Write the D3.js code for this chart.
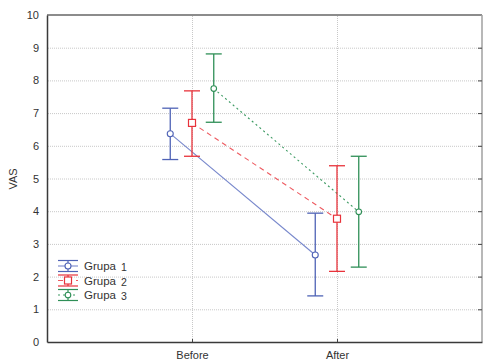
<!DOCTYPE html>
<html>
<head>
<meta charset="utf-8">
<script src="https://cdn.jsdelivr.net/npm/d3@7"></script>
<style>
  html, body { margin: 0; padding: 0; background: #fff; }
  svg { display: block; }
  text { font-family: "Liberation Sans", Arial, sans-serif; fill: #333; }
</style>
</head>
<body>
<svg id="chart" width="483" height="360"></svg>
<script>
// Measurement occasions on the x axis
const categories = ["Before", "After"];
// Group names and their numbers as shown in the legend
const groupNames = ["Grupa", "Grupa", "Grupa"];
const groupNumbers = ["1", "2", "3"];
// Mean VAS score per group, per occasion
const means1 = [6.37, 2.66];
const means2 = [6.70, 3.77];
const means3 = [7.75, 3.98];
// Upper and lower error-bar limits per group, per occasion
const upper1 = [7.15, 3.94];
const lower1 = [5.58, 1.41];
const upper2 = [7.68, 5.39];
const lower2 = [5.68, 2.16];
const upper3 = [8.81, 5.68];
const lower3 = [6.72, 2.29];
// Y tick values
const yTicks = [0, 1, 2, 3, 4, 5, 6, 7, 8, 9, 10];

const groups = [
  { name: groupNames[0], num: groupNumbers[0], means: means1, upper: upper1, lower: lower1,
    color: "#4f63b6", line: "#7888cc", dash: null, marker: "circle", offset: -0.15 },
  { name: groupNames[1], num: groupNumbers[1], means: means2, upper: upper2, lower: lower2,
    color: "#e8333b", line: "#ee5a60", dash: "5,4", marker: "square", offset: 0 },
  { name: groupNames[2], num: groupNumbers[2], means: means3, upper: upper3, lower: lower3,
    color: "#2f8f57", line: "#3c9a62", dash: "2,3", marker: "smallcircle", offset: 0.15 }
];

const svg = d3.select("#chart");
const plotLeft = 47, plotRight = 482, plotTop = 15, plotBottom = 342;

const x = d3.scaleLinear().domain([0, 3]).range([plotLeft, plotRight]);
const y = d3.scaleLinear().domain([0, 10]).range([plotBottom, plotTop]);
const catPos = i => i + 1;

// Grid lines
const grid = svg.append("g");
grid.selectAll("line.h").data(yTicks.filter(t => t > 0 && t < 10)).join("line")
  .attr("x1", plotLeft + 1).attr("x2", plotRight - 1)
  .attr("y1", d => y(d) + 0.5).attr("y2", d => y(d) + 0.5)
  .attr("stroke", "#c8c8c8").attr("stroke-width", 1).attr("stroke-dasharray", "1,1");
grid.selectAll("line.v").data(categories).join("line")
  .attr("x1", (d, i) => Math.round(x(catPos(i))) + 0.5)
  .attr("x2", (d, i) => Math.round(x(catPos(i))) + 0.5)
  .attr("y1", plotTop + 1).attr("y2", plotBottom - 1)
  .attr("stroke", "#c8c8c8").attr("stroke-width", 1).attr("stroke-dasharray", "1,1");

// Frame
svg.append("line").attr("x1", plotLeft).attr("x2", plotRight).attr("y1", plotTop).attr("y2", plotTop)
  .attr("stroke", "#8c8c8c").attr("stroke-width", 2);
svg.append("line").attr("x1", plotRight).attr("x2", plotRight).attr("y1", plotTop).attr("y2", plotBottom)
  .attr("stroke", "#a0a0a0").attr("stroke-width", 1.5);

// Left axis
const yAxis = svg.append("g").attr("transform", `translate(${plotLeft},0)`)
  .call(d3.axisLeft(y).tickValues(yTicks).tickSize(0).tickPadding(8).tickFormat(d3.format("d")));
yAxis.select(".domain").attr("stroke", "#3a3a3a").attr("stroke-width", 1.5);
yAxis.selectAll("text").style("font-size", "11px").attr("fill", "#333");

// Right-side inward ticks
svg.append("g").selectAll("line").data(yTicks.filter(t => t > 0 && t < 10)).join("line")
  .attr("x1", plotRight - 4).attr("x2", plotRight)
  .attr("y1", d => y(d) + 0.5).attr("y2", d => y(d) + 0.5)
  .attr("stroke", "#444").attr("stroke-width", 1);

// Bottom axis
const xAxis = svg.append("g").attr("transform", `translate(0,${plotBottom})`)
  .call(d3.axisBottom(x).tickValues(categories.map((c, i) => catPos(i)))
    .tickSize(-3).tickSizeOuter(0).tickPadding(9).tickFormat((d, i) => categories[i]));
xAxis.select(".domain").attr("stroke", "#3a3a3a").attr("stroke-width", 1.5);
xAxis.selectAll(".tick line").attr("stroke", "#444");
xAxis.selectAll("text").style("font-size", "11px").attr("fill", "#333");

// Y-axis title
svg.append("text")
  .attr("transform", "translate(17,179) rotate(-90)")
  .attr("text-anchor", "middle")
  .style("font-size", "11px")
  .text("VAS");

function drawMarker(g, cx, cy, grp) {
  if (grp.marker === "square") {
    g.append("rect").attr("x", cx - 3.5).attr("y", cy - 3.5).attr("width", 7).attr("height", 7)
      .attr("fill", "#fff").attr("stroke", grp.color).attr("stroke-width", 1.2);
  } else {
    const r = grp.marker === "circle" ? 3 : 2.8;
    g.append("circle").attr("cx", cx).attr("cy", cy).attr("r", r)
      .attr("fill", "#fff").attr("stroke", grp.color).attr("stroke-width", 1.1);
  }
}

const capHalf = 8;
const plot = svg.append("g");

// Connecting lines between the two occasions
groups.forEach(grp => {
  const lineGen = d3.line()
    .x((d, i) => x(catPos(i) + grp.offset))
    .y(d => y(d));
  plot.append("path").datum(grp.means)
    .attr("d", lineGen)
    .attr("fill", "none")
    .attr("stroke", grp.line)
    .attr("stroke-width", 1.1)
    .attr("stroke-dasharray", grp.dash);
});

// Error bars and markers
groups.forEach(grp => {
  const g = plot.append("g");
  grp.means.forEach((m, i) => {
    const cx = x(catPos(i) + grp.offset);
    g.append("line").attr("x1", cx).attr("x2", cx)
      .attr("y1", y(grp.upper[i])).attr("y2", y(grp.lower[i]))
      .attr("stroke", grp.color).attr("stroke-width", 1.3);
    [grp.upper[i], grp.lower[i]].forEach(v => {
      g.append("line").attr("x1", cx - capHalf).attr("x2", cx + capHalf)
        .attr("y1", y(v)).attr("y2", y(v))
        .attr("stroke", grp.color).attr("stroke-width", 1.3);
    });
    drawMarker(g, cx, y(m), grp);
  });
});

// Legend
const legend = svg.append("g");
const legX = 58, legW = 20, legY0 = 266, legStep = 14.5, legCap = 5.5;
groups.forEach((grp, i) => {
  const cy = legY0 + i * legStep;
  const g = legend.append("g");
  g.append("line").attr("x1", legX).attr("x2", legX + legW).attr("y1", cy).attr("y2", cy)
    .attr("stroke", grp.line).attr("stroke-width", 1.1).attr("stroke-dasharray", grp.dash);
  g.append("line").attr("x1", legX + legW / 2).attr("x2", legX + legW / 2)
    .attr("y1", cy - legCap).attr("y2", cy + legCap)
    .attr("stroke", grp.color).attr("stroke-width", 1.2);
  [cy - legCap, cy + legCap].forEach(yy => {
    g.append("line").attr("x1", legX).attr("x2", legX + legW).attr("y1", yy).attr("y2", yy)
      .attr("stroke", grp.color).attr("stroke-width", 1.2);
  });
  drawMarker(g, legX + legW / 2, cy, grp);
  g.append("text").attr("x", 84).attr("y", cy + 4)
    .style("font-size", "11.5px").text(grp.name);
  g.append("text").attr("x", 121).attr("y", cy + 5)
    .style("font-size", "10.5px").text(grp.num);
});
</script>
</body>
</html>
